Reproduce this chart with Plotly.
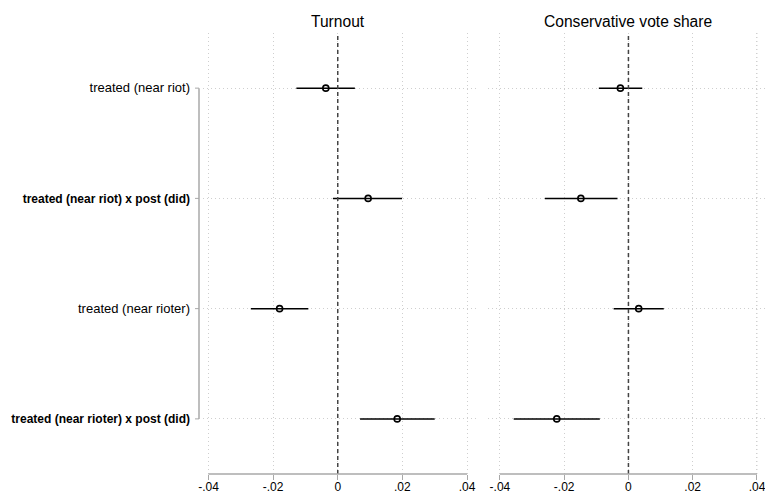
import plotly.graph_objects as go

labels = ["treated (near riot)", "treated (near riot) x post (did)",
          "treated (near rioter)", "treated (near rioter) x post (did)"]
bold = [False, True, False, True]
rows = [1, 2, 3, 4]

turnout_coef = [-0.0037, 0.0094, -0.0180, 0.0184]
turnout_lo = [-0.0128, -0.0015, -0.0269, 0.0069]
turnout_hi = [0.0053, 0.0199, -0.0091, 0.0300]

cons_coef = [-0.0025, -0.0148, 0.0032, -0.0223]
cons_lo = [-0.0092, -0.0260, -0.0046, -0.0357]
cons_hi = [0.0043, -0.0034, 0.0110, -0.0089]

panel_titles = ["Turnout", "Conservative vote share"]
xticks = [-0.04, -0.02, 0, 0.02, 0.04]
xticktext = ["-.04", "-.02", "0", ".02", ".04"]

W, H = 765, 494
L, R, T, B = 203, 0, 33, 20
pw = W - L - R

fig = go.Figure()
FONT = "Liberation Sans, Arial, sans-serif"
GRID = "#cfcfcf"

for i, (coef, lo, hi) in enumerate([(turnout_coef, turnout_lo, turnout_hi),
                                     (cons_coef, cons_lo, cons_hi)]):
    xa = "x" if i == 0 else "x2"
    ya = "y" if i == 0 else "y2"
    fig.add_trace(go.Scatter(
        x=coef, y=rows, mode="markers", xaxis=xa, yaxis=ya,
        marker=dict(symbol="circle-open", size=6, color="black",
                    line=dict(width=1.6, color="black")),
        error_x=dict(type="data", symmetric=False,
                     array=[h - c for h, c in zip(hi, coef)],
                     arrayminus=[c - l for c, l in zip(coef, lo)],
                     width=0, thickness=1.5, color="black"),
        showlegend=False, hoverinfo="skip"))

d1 = [0, (478 - L) / pw]
d2 = [(488 - L) / pw, 1]

common_x = dict(tickvals=xticks, ticktext=xticktext, ticks="outside", ticklen=5,
                tickwidth=1, tickcolor="#a8a8a8", showline=False, zeroline=False,
                showgrid=True, gridcolor=GRID, griddash="1px,3px", gridwidth=1,
                ticklabeloverflow="allow", automargin=False, ticklabelstandoff=-3,
                tickfont=dict(size=12, color="black", family=FONT))
ticktext_y = [f"<b>{l}</b>" if b else f"<span style='font-size:13px'>{l}</span>"
              for l, b in zip(labels, bold)]
fig.update_layout(
    xaxis=dict(domain=d1, range=[-0.0417, 0.0434], anchor="y", **common_x),
    xaxis2=dict(domain=d2, range=[-0.0437, 0.0425], anchor="y2", **common_x),
    yaxis=dict(range=[4.5, 0.5], tickvals=rows, ticktext=ticktext_y, automargin=False,
               ticks="", ticklabelstandoff=12, showline=False, zeroline=False,
               showgrid=True, gridcolor=GRID, griddash="1px,3px", gridwidth=1,
               tickfont=dict(size=12, color="black", family=FONT)),
    yaxis2=dict(range=[4.5, 0.5], anchor="x2", tickvals=rows, showticklabels=False,
                ticks="", showline=False, zeroline=False, automargin=False,
                showgrid=True, gridcolor=GRID, griddash="1px,3px", gridwidth=1),
    width=W, height=H, margin=dict(l=L, r=R, t=T, b=B, autoexpand=False),
    plot_bgcolor="white", paper_bgcolor="white",
    font=dict(family=FONT, color="black"),
)

shapes = []
for xa in ["x", "x2"]:
    shapes.append(dict(type="line", xref=xa, yref="paper", x0=0, x1=0, y0=0, y1=1,
                       line=dict(color="#444444", width=1.5, dash="4px,3px"), layer="above"))
    shapes.append(dict(type="line", xref=xa, yref="paper", x0=-0.04, x1=0.04, y0=0, y1=0,
                       line=dict(color="#a8a8a8", width=1.5)))
shapes.append(dict(type="line", xref="x2", yref="paper", x0=0.04, x1=0.04, y0=0, y1=1,
                   line=dict(color=GRID, width=1, dash="1px,3px"), layer="below"))
ax = (199 - L) / pw
tx = (195 - L) / pw
shapes.append(dict(type="line", xref="paper", yref="y", x0=ax, x1=ax, y0=1, y1=4,
                   line=dict(color="#a8a8a8", width=1.5)))
for r in rows:
    shapes.append(dict(type="line", xref="paper", yref="y", x0=tx, x1=ax, y0=r, y1=r,
                       line=dict(color="#a8a8a8", width=1)))
fig.update_layout(shapes=shapes)

for i, t in enumerate(panel_titles):
    fig.add_annotation(text=t, xref=("x" if i == 0 else "x2"), x=0,
                       yref="paper", y=1, yanchor="bottom", yshift=1, showarrow=False,
                       font=dict(size=15.6, color="black", family=FONT))

fig.write_html("out.html")
